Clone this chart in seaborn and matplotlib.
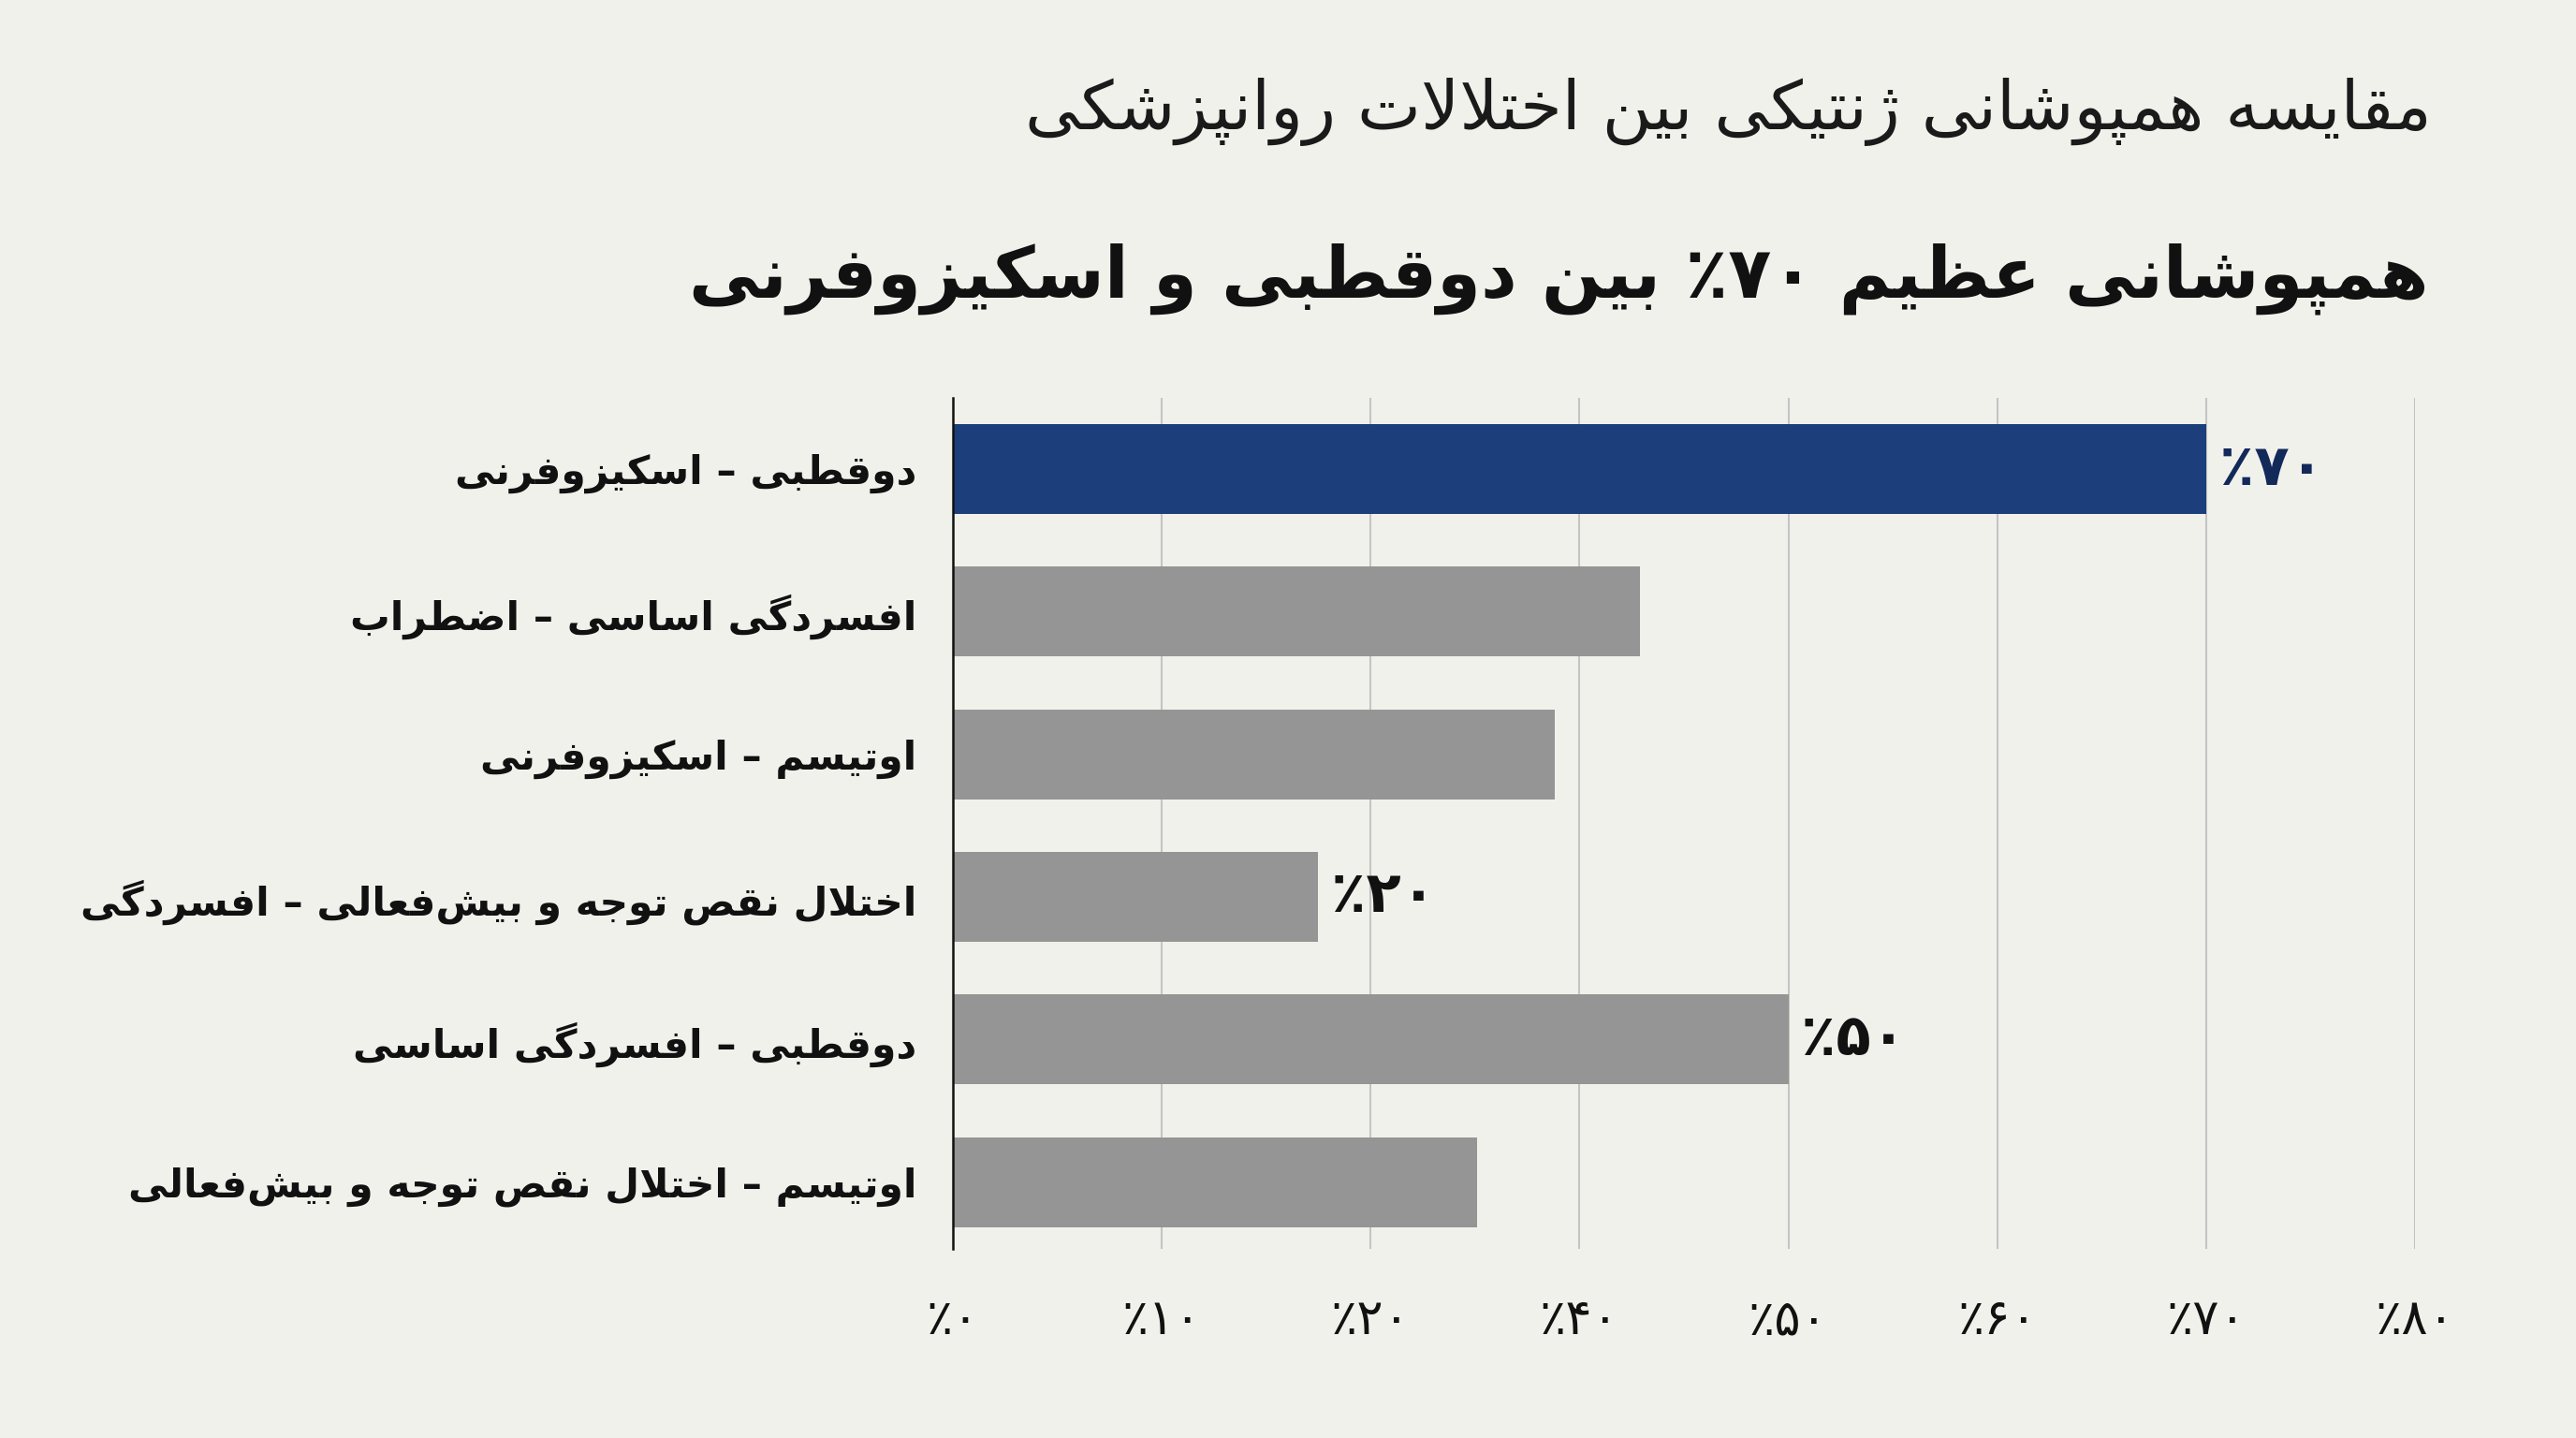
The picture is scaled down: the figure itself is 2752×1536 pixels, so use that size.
import re
import matplotlib
matplotlib.use("Agg")
import matplotlib.pyplot as plt
import seaborn as sns

# ---- data (logical Persian text, shaped below) ----
categories = [
    "دوقطبی – اسکیزوفرنی",
    "افسردگی اساسی – اضطراب",
    "اوتیسم – اسکیزوفرنی",
    "اختلال نقص توجه و بیش‌فعالی – افسردگی",
    "دوقطبی – افسردگی اساسی",
    "اوتیسم – اختلال نقص توجه و بیش‌فعالی",
]
overlap = [60, 32.9, 28.8, 17.5, 40, 25.1]
value_labels = ["۷۰٪", "", "", "۲۰٪", "۵۰٪", ""]
tick_values = [0, 10, 20, 30, 40, 50, 60, 70]
tick_labels = ["۰٪", "۱۰٪", "۲۰٪", "۴۰٪", "۵۰٪", "۶۰٪", "۷۰٪", "۸۰٪"]
subtitle = "مقایسه همپوشانی ژنتیکی بین اختلالات روانپزشکی"
title = "همپوشانی عظیم ۷۰٪ بین دوقطبی و اسکیزوفرنی"

NAVY = "#1c3f7c"
GRAY = "#959595"
BG = "#f1f1ec"

# ---- minimal Persian shaping (matplotlib has no complex text layout) ----
FORMS = {
    "ا": ("\uFE8D", "\uFE8E", None, None),
    "آ": ("\uFE81", "\uFE82", None, None),
    "د": ("\uFEA9", "\uFEAA", None, None),
    "ذ": ("\uFEAB", "\uFEAC", None, None),
    "ر": ("\uFEAD", "\uFEAE", None, None),
    "ز": ("\uFEAF", "\uFEB0", None, None),
    "ژ": ("\uFB8A", "\uFB8B", None, None),
    "و": ("\uFEED", "\uFEEE", None, None),
    "ب": ("\uFE8F", "\uFE90", "\uFE91", "\uFE92"),
    "پ": ("\uFB56", "\uFB57", "\uFB58", "\uFB59"),
    "ت": ("\uFE95", "\uFE96", "\uFE97", "\uFE98"),
    "ث": ("\uFE99", "\uFE9A", "\uFE9B", "\uFE9C"),
    "ج": ("\uFE9D", "\uFE9E", "\uFE9F", "\uFEA0"),
    "چ": ("\uFB7A", "\uFB7B", "\uFB7C", "\uFB7D"),
    "ح": ("\uFEA1", "\uFEA2", "\uFEA3", "\uFEA4"),
    "خ": ("\uFEA5", "\uFEA6", "\uFEA7", "\uFEA8"),
    "س": ("\uFEB1", "\uFEB2", "\uFEB3", "\uFEB4"),
    "ش": ("\uFEB5", "\uFEB6", "\uFEB7", "\uFEB8"),
    "ص": ("\uFEB9", "\uFEBA", "\uFEBB", "\uFEBC"),
    "ض": ("\uFEBD", "\uFEBE", "\uFEBF", "\uFEC0"),
    "ط": ("\uFEC1", "\uFEC2", "\uFEC3", "\uFEC4"),
    "ظ": ("\uFEC5", "\uFEC6", "\uFEC7", "\uFEC8"),
    "ع": ("\uFEC9", "\uFECA", "\uFECB", "\uFECC"),
    "غ": ("\uFECD", "\uFECE", "\uFECF", "\uFED0"),
    "ف": ("\uFED1", "\uFED2", "\uFED3", "\uFED4"),
    "ق": ("\uFED5", "\uFED6", "\uFED7", "\uFED8"),
    "ک": ("\uFB8E", "\uFB8F", "\uFB90", "\uFB91"),
    "گ": ("\uFB92", "\uFB93", "\uFB94", "\uFB95"),
    "ل": ("\uFEDD", "\uFEDE", "\uFEDF", "\uFEE0"),
    "م": ("\uFEE1", "\uFEE2", "\uFEE3", "\uFEE4"),
    "ن": ("\uFEE5", "\uFEE6", "\uFEE7", "\uFEE8"),
    "ه": ("\uFEE9", "\uFEEA", "\uFEEB", "\uFEEC"),
    "ی": ("\uFBFC", "\uFBFD", "\uFBFE", "\uFBFF"),
    "\uE000": ("\uFEFB", "\uFEFC", None, None),  # lam-alef
}


def shape(text):
    text = text.replace("لا", "\uE000")
    out = []
    for i, c in enumerate(text):
        if c not in FORMS:
            out.append(c)
            continue
        prev = text[i - 1] if i > 0 else ""
        nxt = text[i + 1] if i + 1 < len(text) else ""
        jp = prev in FORMS and FORMS[prev][2] is not None
        jn = nxt in FORMS and FORMS[c][2] is not None
        iso, fin, ini, med = FORMS[c]
        if jp and jn:
            out.append(med)
        elif jp:
            out.append(fin)
        elif jn:
            out.append(ini)
        else:
            out.append(iso)
    return "".join(out).replace("\u200c", "")


def fa(text):
    parts = re.findall(r"[0-9۰-۹]+|[^0-9۰-۹]", shape(text))
    return "".join(reversed(parts))


sns.set_theme(style="white")
plt.rcParams["font.family"] = ["DejaVu Sans"]

fig = plt.figure(figsize=(13.76, 7.68), dpi=200, facecolor=BG)
ax = fig.add_axes([0.3699, 0.1314, 0.5676, 0.5920])
ax.set_facecolor(BG)

labels = [fa(c) for c in categories]
colors = [NAVY] + [GRAY] * (len(labels) - 1)

sns.barplot(
    x=overlap,
    y=labels,
    hue=labels,
    palette=colors,
    width=0.63,
    saturation=1,
    linewidth=0,
    legend=False,
    ax=ax,
    zorder=3,
)

ax.set_xlim(0, 70)
ax.set_ylim(5.47, -0.5)
ax.set_xticks(tick_values)
ax.set_xticklabels([fa(t) for t in tick_labels], fontsize=19, color="#111111")
ax.tick_params(axis="x", length=0, pad=18)
ax.tick_params(axis="y", length=0, pad=14)
for t in ax.get_yticklabels():
    t.set_fontsize(15.3)
    t.set_fontweight("bold")
    t.set_color("#111111")

ax.grid(axis="x", color="#c4c4c4", linewidth=0.75, zorder=0)
ax.grid(axis="y", visible=False)
for side in ["top", "right", "bottom"]:
    ax.spines[side].set_visible(False)
ax.spines["left"].set_color("#111111")
ax.spines["left"].set_linewidth(0.9)
ax.spines["left"].set_zorder(4)
ax.set_xlabel("")
ax.set_ylabel("")

# one container per hue level -> one label each
for i, cont in enumerate(ax.containers):
    if value_labels[i]:
        txt = ax.bar_label(cont, labels=[fa(value_labels[i])], padding=5,
                           fontsize=22, fontweight="bold", color="#111111")
        if i == 0:
            txt[0].set_color("#13295a")

fig.text(0.9439, 0.922, fa(subtitle), ha="right", va="center",
         fontsize=26, color="#1a1a1a")
fig.text(0.9426, 0.806, fa(title), ha="right", va="center",
         fontsize=27.2, fontweight="bold", color="#111111")

fig.savefig("out.png", dpi=200, facecolor=BG)
